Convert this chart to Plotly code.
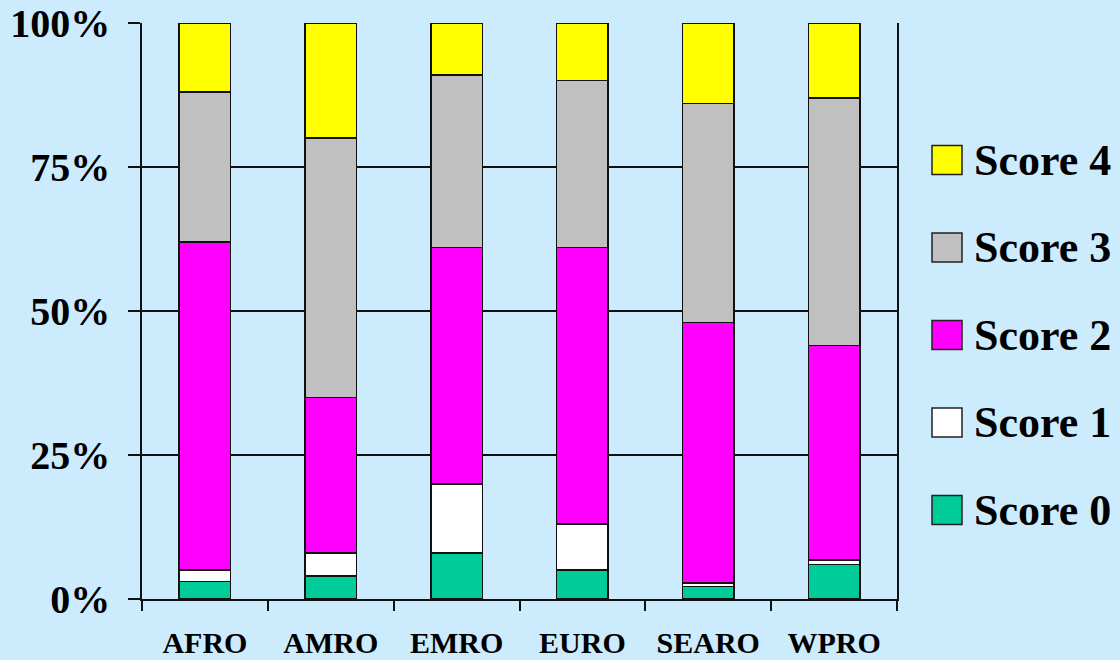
import plotly.graph_objects as go

# WHO regions and share of countries in each score band (percent)
regions = ["AFRO", "AMRO", "EMRO", "EURO", "SEARO", "WPRO"]
score_0 = [3, 4, 8, 5, 2.2, 6]
score_1 = [2, 4, 12, 8, 0.6, 0.8]
score_2 = [57, 27, 41, 48, 45.2, 37.2]
score_3 = [26, 45, 30, 29, 38, 43]
score_4 = [12, 20, 9, 10, 14, 13]

series_names = ["Score 0", "Score 1", "Score 2", "Score 3", "Score 4"]
series_values = [score_0, score_1, score_2, score_3, score_4]
series_colors = ["#00CC99", "#FFFFFF", "#FF00FF", "#C0C0C0", "#FFFF00"]

y_tick_values = [0, 25, 50, 75, 100]
y_tick_labels = ["0%", "25%", "50%", "75%", "100%"]

W, H = 1120, 660
M_L, M_R, M_T, M_B = 142, 223, 23, 61
BG = "#CCEBFD"
FONT = "Liberation Serif"

fig = go.Figure()
for name, vals, col in zip(series_names, series_values, series_colors):
    fig.add_trace(go.Bar(
        x=regions, y=vals, name=name,
        marker=dict(color=col, line=dict(color="#111111", width=1.5)),
        showlegend=False,
    ))

# Legend drawn as large swatches with labels, top entry = highest score
plot_w = W - M_L - M_R
plot_h = H - M_T - M_B


def px_to_paper_x(px):
    return (px - M_L) / plot_w


def px_to_paper_y(py):
    return 1 - (py - M_T) / plot_h


shapes = []
annotations = []
legend_top_center = 160
legend_step = 87.5
for i, (name, col) in enumerate(zip(reversed(series_names), reversed(series_colors))):
    cy = legend_top_center + i * legend_step
    shapes.append(dict(
        type="rect", xref="paper", yref="paper",
        x0=px_to_paper_x(932), x1=px_to_paper_x(962),
        y0=px_to_paper_y(cy + 14.5), y1=px_to_paper_y(cy - 14.5),
        fillcolor=col, line=dict(color="#222222", width=1.5),
    ))
    annotations.append(dict(
        xref="paper", yref="paper",
        x=px_to_paper_x(972), y=px_to_paper_y(cy),
        xanchor="left", yanchor="middle", showarrow=False,
        text=name, font=dict(family=FONT, size=44, color="#000000", weight="bold"),
    ))

fig.update_layout(
    barmode="stack",
    bargap=0.59,
    width=W, height=H, autosize=False,
    margin=dict(l=M_L, r=M_R, t=M_T, b=M_B, pad=0),
    paper_bgcolor=BG, plot_bgcolor=BG,
    font=dict(family=FONT, color="#000000"),
    shapes=shapes,
    annotations=annotations,
    xaxis=dict(
        type="category",
        automargin=False,
        tickson="boundaries",
        ticks="outside", ticklen=10, tickwidth=1.5, tickcolor="#111111",
        showline=True, linecolor="#111111", linewidth=1.5,
        showgrid=False,
        tickfont=dict(family=FONT, size=30, color="#000000", weight="bold"),
        ticklabelstandoff=16,
    ),
    yaxis=dict(
        range=[0, 100],
        automargin=False,
        tickvals=y_tick_values, ticktext=y_tick_labels,
        ticks="outside", ticklen=12, tickwidth=1.5, tickcolor="#111111",
        showline=True, linecolor="#111111", linewidth=1.5, mirror=True,
        showgrid=True, gridcolor="#111111", gridwidth=1.5,
        zeroline=False,
        tickfont=dict(family=FONT, size=40, color="#000000", weight="bold"),
        ticklabelstandoff=10,
    ),
)

fig.write_html("out.html")
